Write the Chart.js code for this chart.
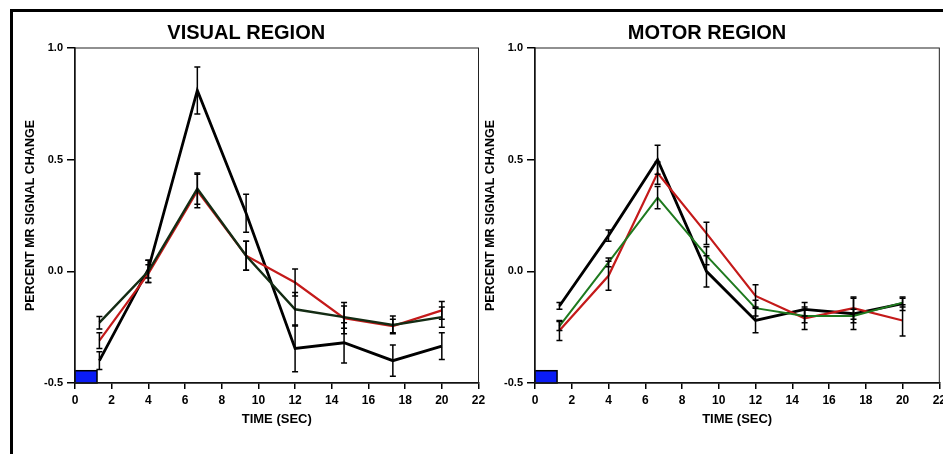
<!DOCTYPE html>
<html>
<head>
<meta charset="utf-8">
<script src="https://cdn.jsdelivr.net/npm/chart.js@4.4.1/dist/chart.umd.min.js"></script>
<style>
  html, body { margin: 0; padding: 0; background: #fff; overflow: hidden; }
  body { width: 943px; height: 454px; position: relative; }
  .frame { position: absolute; left: 10px; top: 9px; width: 1000px; height: 500px;
           border-top: 3px solid #000; border-left: 3px solid #000; }
  .panel { position: absolute; top: 0; width: 490px; height: 454px; }
</style>
</head>
<body>
<div class="frame"></div>
<div class="panel" style="left:0px"><canvas id="visual"></canvas></div>
<div class="panel" style="left:460px"><canvas id="motor"></canvas></div>
<script>
// time points (sec)
let times = [1.33, 4.0, 6.67, 9.33, 12.0, 14.67, 17.33, 20.0];
let xTicks = [0, 2, 4, 6, 8, 10, 12, 14, 16, 18, 20, 22];
let yTicks = [-0.5, 0.0, 0.5, 1.0];

// visual region
let visBlack = [-0.40, 0.01, 0.81, 0.26, -0.345, -0.32, -0.40, -0.335];
let visBlackErr = [0.04, 0.04, 0.105, 0.085, 0.105, 0.09, 0.07, 0.06];
let visRed = [-0.31, -0.01, 0.36, 0.07, -0.05, -0.21, -0.245, -0.175];
let visRedErr = [0.035, 0.04, 0.075, 0.065, 0.06, 0.07, 0.03, 0.04];
let visGreen = [-0.23, 0.0, 0.37, 0.07, -0.17, -0.205, -0.24, -0.205];
let visGreenErr = [0.028, 0.05, 0.07, 0.065, 0.075, 0.05, 0.04, 0.045];

// motor region
let motBlack = [-0.155, 0.16, 0.50, 0.0, -0.22, -0.17, -0.19, -0.145];
let motBlackErr = [0.015, 0.025, 0.065, 0.07, 0.055, 0.03, 0.07, 0.03];
let motRed = [-0.265, -0.02, 0.44, 0.17, -0.11, -0.21, -0.165, -0.22];
let motRedErr = [0.045, 0.065, 0.05, 0.05, 0.05, 0.05, 0.05, 0.07];
let motGreen = [-0.245, 0.04, 0.33, 0.07, -0.165, -0.2, -0.2, -0.14];
let motGreenErr = [0.02, 0.02, 0.05, 0.04, 0.035, 0.03, 0.03, 0.02];

// stimulus bar
let stimX = [0, 1.2];
let stimY = [-0.5, -0.445];

let FONT = '"Liberation Sans", Arial, Helvetica, sans-serif';

let errorBars = {
    id: 'errorBars',
    afterDatasetsDraw(chart) {
        let {ctx, scales: {x, y}} = chart;
        ctx.save();
        chart.data.datasets.forEach(ds => {
            if (!ds.errors) return;
            ctx.strokeStyle = '#000';
            ctx.lineWidth = 1.5;
            ds.data.forEach((p, i) => {
                let px = x.getPixelForValue(p.x);
                let top = y.getPixelForValue(p.y + ds.errors[i]);
                let bot = y.getPixelForValue(p.y - ds.errors[i]);
                ctx.beginPath();
                ctx.moveTo(px, top); ctx.lineTo(px, bot);
                ctx.moveTo(px - 3, top); ctx.lineTo(px + 3, top);
                ctx.moveTo(px - 3, bot); ctx.lineTo(px + 3, bot);
                ctx.stroke();
            });
        });
        ctx.restore();
    }
};

let boxAndStim = {
    id: 'boxAndStim',
    beforeDatasetsDraw(chart) {
        let {ctx, chartArea: a, scales: {x, y}} = chart;
        ctx.save();
        // stimulus block
        let x0 = x.getPixelForValue(stimX[0]), x1 = x.getPixelForValue(stimX[1]);
        let y0 = y.getPixelForValue(stimY[0]), y1 = y.getPixelForValue(stimY[1]);
        ctx.fillStyle = '#0a1cf5';
        ctx.fillRect(x0, y1, x1 - x0, y0 - y1);
        ctx.strokeStyle = '#000';
        ctx.lineWidth = 1.5;
        ctx.strokeRect(x0, y1, x1 - x0, y0 - y1);
        // plot frame
        ctx.lineWidth = 1;
        ctx.strokeStyle = '#222';
        ctx.strokeRect(a.left, a.top, a.right - a.left, a.bottom - a.top);
        ctx.restore();
    }
};

let toPoints = arr => arr.map((v, i) => ({x: times[i], y: v}));

let line = (vals, errs, color, width) => ({
    data: toPoints(vals),
    errors: errs,
    borderColor: color,
    backgroundColor: color,
    borderWidth: width,
    pointRadius: 0,
    tension: 0
});

let makeChart = (id, title, datasets, padRight) => new Chart(document.getElementById(id), {
    type: 'line',
    data: {datasets: datasets},
    plugins: [boxAndStim, errorBars],
    options: {
        responsive: true,
        maintainAspectRatio: false,
        animation: false,
        layout: {padding: {left: 14, right: padRight, top: 0, bottom: 0}},
        plugins: {
            legend: {display: false},
            tooltip: {enabled: false},
            title: {
                display: true,
                text: title,
                color: '#000',
                font: {family: FONT, size: 20, weight: 'bold', lineHeight: 1.2},
                padding: {top: 21, bottom: 3}
            }
        },
        scales: {
            x: {
                type: 'linear',
                min: 0, max: 22,
                afterBuildTicks: s => { s.ticks = xTicks.map(v => ({value: v})); },
                afterFit: s => { s.height = 71; },
                grid: {display: true, drawOnChartArea: false, drawTicks: true, tickLength: 6, color: '#000', lineWidth: 1.5},
                border: {display: true, color: '#000', width: 1.5},
                ticks: {color: '#000', padding: 4, maxRotation: 0, font: {family: FONT, size: 12, weight: 'bold'}},
                title: {display: true, text: 'TIME (SEC)', color: '#000',
                        font: {family: FONT, size: 13, weight: 'bold', lineHeight: 1},
                        padding: {top: 0, bottom: 28}}
            },
            y: {
                min: -0.5, max: 1.0,
                afterBuildTicks: s => { s.ticks = yTicks.map(v => ({value: v})); },
                afterFit: s => { s.width = 61; },
                grid: {display: true, drawOnChartArea: false, drawTicks: true, tickLength: 8, color: '#000', lineWidth: 1.5},
                border: {display: true, color: '#000', width: 1.5},
                ticks: {color: '#000', padding: 4, font: {family: FONT, size: 11, weight: 'bold'},
                        callback: v => v.toFixed(1)},
                title: {display: true, text: 'PERCENT MR SIGNAL CHANGE', color: '#000',
                        font: {family: FONT, size: 12.5, weight: 'bold', lineHeight: 1},
                        padding: {top: 10, bottom: 0}}
            }
        }
    }
});

makeChart('visual', 'VISUAL REGION', [
    line(visGreen, visGreenErr, '#142c14', 2.4),
    line(visRed, visRedErr, '#c41a1a', 2.2),
    line(visBlack, visBlackErr, '#000', 2.8)
], 11.5);

makeChart('motor', 'MOTOR REGION', [
    line(motGreen, motGreenErr, '#1f7a1f', 2),
    line(motRed, motRedErr, '#c41a1a', 2.2),
    line(motBlack, motBlackErr, '#000', 2.8)
], 10);
</script>
</body>
</html>
